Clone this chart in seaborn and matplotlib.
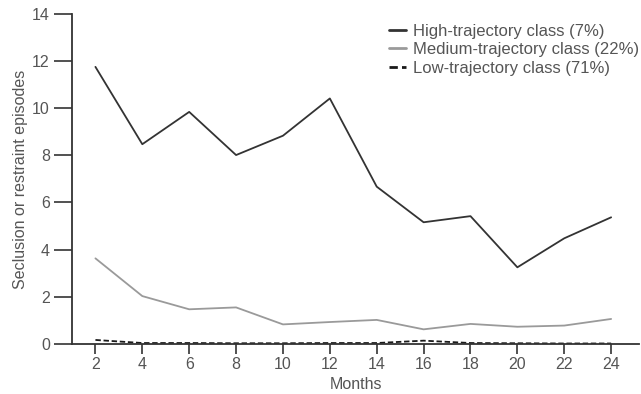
import matplotlib
matplotlib.use("Agg")
import matplotlib.pyplot as plt
import seaborn as sns
import pandas as pd

months = [2, 4, 6, 8, 10, 12, 14, 16, 18, 20, 22, 24]
high = [11.75, 8.47, 9.84, 8.01, 8.83, 10.41, 6.67, 5.16, 5.42, 3.25, 4.48, 5.37]
medium = [3.63, 2.03, 1.47, 1.55, 0.83, 0.93, 1.02, 0.62, 0.85, 0.73, 0.78, 1.06]
low = [0.17, 0.04, 0.04, 0.03, 0.03, 0.04, 0.04, 0.14, 0.04, 0.03, 0.02, 0.02]
labels = ["High-trajectory class (7%)", "Medium-trajectory class (22%)", "Low-trajectory class (71%)"]
ticks_y = [0, 2, 4, 6, 8, 10, 12, 14]

df = pd.DataFrame({
    "Months": months * 3,
    "Episodes": high + medium + low,
    "Class": [labels[0]] * 12 + [labels[1]] * 12 + [labels[2]] * 12,
})

sns.set_style("white")
plt.rcParams['font.family'] = ['Liberation Sans', 'DejaVu Sans']

fig = plt.figure(figsize=(6.41, 3.94), dpi=100)
ax = fig.add_axes([0.1123, 0.127, 0.885, 0.838])

palette = {labels[0]: "#333333", labels[1]: "#9a9a9a", labels[2]: "#1a1a1a"}
dashes = {labels[0]: "", labels[1]: "", labels[2]: (3, 1.5)}
sns.lineplot(data=df, x="Months", y="Episodes", hue="Class", style="Class",
             palette=palette, dashes=dashes, ax=ax, linewidth=1.3, legend=True)

ax.set_xlim(1, 25.2)
ax.set_ylim(0, 14)
ax.set_xticks(months)
ax.set_yticks(ticks_y)
for s in ["top", "right"]:
    ax.spines[s].set_visible(False)
for s in ["left", "bottom"]:
    ax.spines[s].set_color("#333333")
    ax.spines[s].set_linewidth(1.3)
ax.tick_params(axis="both", direction="out", width=1.2, color="#333333",
               labelsize=11.5, labelcolor="#555555", left=True, bottom=True)
ax.tick_params(axis="y", length=13, pad=3)
ax.tick_params(axis="x", length=7.2, pad=2)
ax.set_xlabel("Months", fontsize=11.5, color="#555555", labelpad=3.5)
ax.set_ylabel("Seclusion or restraint episodes", fontsize=11.5, color="#555555", labelpad=3)

leg = ax.legend(loc="upper left", bbox_to_anchor=(389 / 641, 1 - 24 / 394),
                bbox_transform=fig.transFigure, frameon=False,
                fontsize=12, handlelength=1.0, handletextpad=0.42, labelspacing=0.2,
                borderaxespad=0, borderpad=0)
for t in leg.get_texts():
    t.set_color("#555555")
for h in leg.get_lines():
    h.set_linewidth(2)

fig.savefig("out.png", dpi=100)
